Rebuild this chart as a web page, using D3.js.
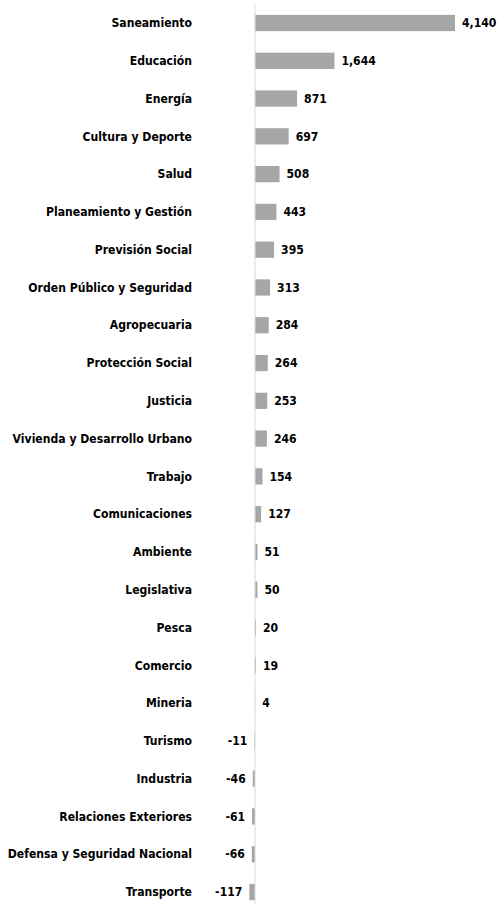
<!DOCTYPE html>
<html>
<head>
<meta charset="utf-8">
<script src="https://cdn.jsdelivr.net/npm/d3@7"></script>
<style>
  body { margin: 0; background: #fff; }
  svg text { font-family: "Liberation Sans Narrow", "DejaVu Sans Condensed", "Arial Narrow", sans-serif; font-weight: bold; fill: #000; }
</style>
</head>
<body>
<div id="chart"></div>
<script>
const categories = [
  'Saneamiento', 'Educación', 'Energía', 'Cultura y Deporte', 'Salud',
  'Planeamiento y  Gestión', 'Previsión Social', 'Orden Público y Seguridad',
  'Agropecuaria', 'Protección Social', 'Justicia', 'Vivienda y Desarrollo Urbano',
  'Trabajo', 'Comunicaciones', 'Ambiente', 'Legislativa', 'Pesca', 'Comercio',
  'Mineria', 'Turismo', 'Industria', 'Relaciones Exteriores',
  'Defensa y Seguridad Nacional', 'Transporte'
];
const values = [
  4140, 1644, 871, 697, 508, 443, 395, 313, 284, 264, 253, 246,
  154, 127, 51, 50, 20, 19, 4, -11, -46, -61, -66, -117
];

const width = 500, height = 904;
const zeroX = 255, maxX = 455;

const svg = d3.select('#chart').append('svg')
  .attr('width', width)
  .attr('height', height);

let rows = categories.map(function (c, i) { return { name: c, value: values[i] }; });

let x = d3.scaleLinear()
  .domain([0, d3.max(values)])
  .range([zeroX, maxX]);

let y = d3.scaleBand()
  .domain(categories)
  .range([4.1, 910.9])
  .paddingInner(0.57)
  .paddingOuter(0.285);

let fmt = d3.formatLocale({ decimal: '.', thousands: ',', grouping: [3], currency: ['$', ''], minus: '-' }).format(',');

// bars
svg.selectAll('.bar')
  .data(rows)
  .enter().append('rect')
  .attr('class', 'bar')
  .attr('x', function (d) { return Math.min(x(0), x(d.value)); })
  .attr('y', function (d) { return y(d.name); })
  .attr('width', function (d) { return Math.abs(x(d.value) - x(0)); })
  .attr('height', y.bandwidth())
  .style('fill', '#a6a6a6');

// zero line
svg.append('line')
  .attr('x1', x(0)).attr('x2', x(0))
  .attr('y1', 4).attr('y2', height)
  .style('stroke', '#d9d9d9')
  .style('stroke-width', 1);

// category labels
svg.selectAll('.cat')
  .data(rows)
  .enter().append('text')
  .attr('class', 'cat')
  .attr('x', 192)
  .attr('y', function (d) { return y(d.name) + y.bandwidth() / 2; })
  .attr('dy', '0.35em')
  .attr('text-anchor', 'end')
  .style('font-size', '12.1px')
  .text(function (d) { return d.name; });

// value labels
svg.selectAll('.val')
  .data(rows)
  .enter().append('text')
  .attr('class', 'val')
  .attr('x', function (d) { return d.value >= 0 ? x(d.value) + 7 : x(d.value) - 7; })
  .attr('y', function (d) { return y(d.name) + y.bandwidth() / 2; })
  .attr('dy', '0.35em')
  .attr('text-anchor', function (d) { return d.value >= 0 ? 'start' : 'end'; })
  .style('font-size', '12.1px')
  .text(function (d) { return fmt(d.value); });
</script>
</body>
</html>
